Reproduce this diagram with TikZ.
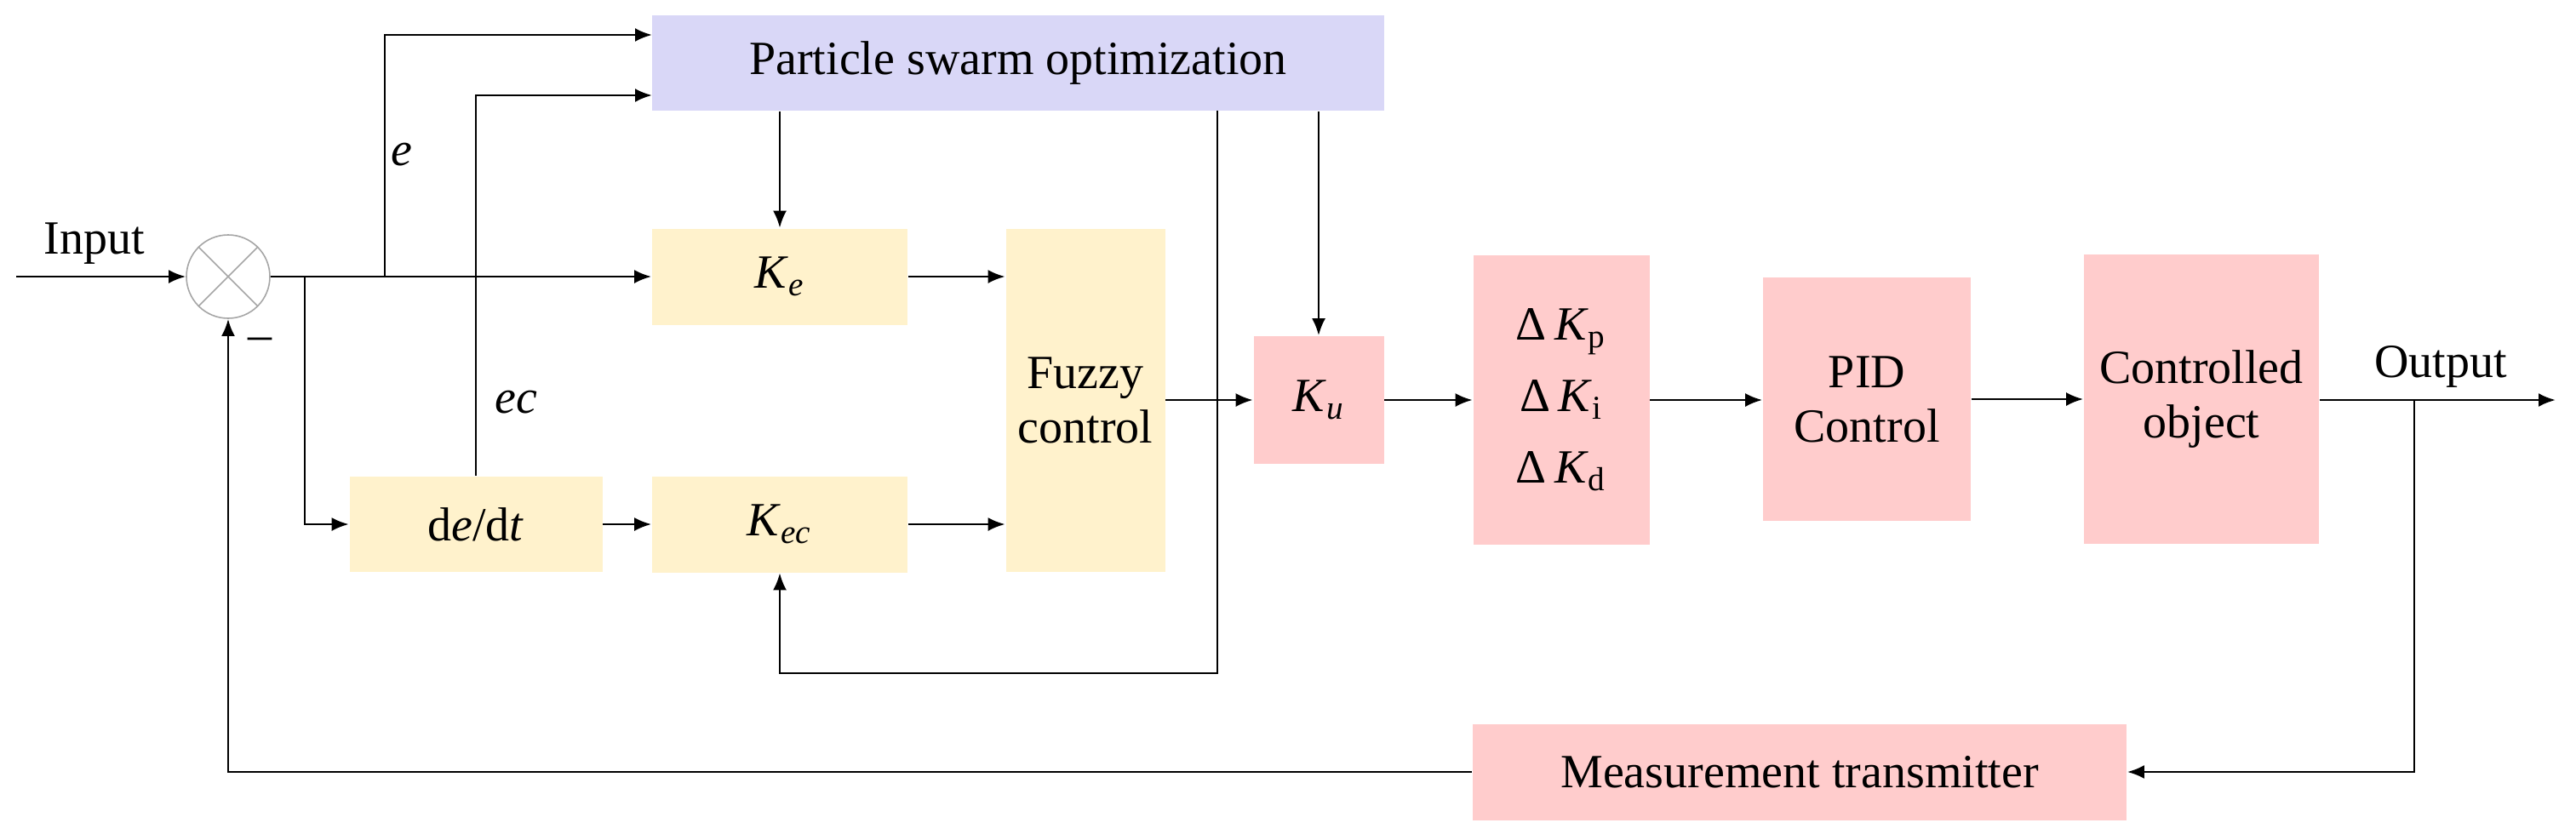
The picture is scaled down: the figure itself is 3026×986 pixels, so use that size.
\documentclass[tikz,border=0pt]{standalone}
\usepackage{fontspec}
\setmainfont{Liberation Serif}
\usetikzlibrary{arrows.meta}
\definecolor{yel}{HTML}{FFF2CC}
\definecolor{pnk}{HTML}{FFCCCC}
\definecolor{lav}{HTML}{D9D7F7}
\begin{document}
\begin{tikzpicture}[x=0.25pt,y=-0.25pt,font=\fontsize{14}{16}\selectfont,
  box/.style={draw=none,inner sep=0pt,align=center},
  yb/.style={box,fill=yel},
  pb/.style={box,fill=pnk},
  ar/.style={-{Latex[length=5pt,width=4pt]},line width=0.7pt},
  ln/.style={line width=0.7pt}]
\useasboundingbox (0,0) rectangle (3026,986);
\node[box,fill=lav,minimum width=215pt,minimum height=28pt] (PSO) at (1196,74) {Particle swarm optimization};
\node[yb,minimum width=75pt,minimum height=28.25pt] (Ke) at (916,325) {\textit{K}\textsubscript{\textit{e}}};
\node[yb,minimum width=75pt,minimum height=28.25pt] (Kec) at (916,616) {\textit{K}\textsubscript{\textit{ec}}};
\node[yb,minimum width=74.25pt,minimum height=28pt] (dedt) at (559,616) {d\textit{e}/d\textit{t}};
\node[yb,minimum width=46.75pt,minimum height=100.75pt] (Fz) at (1275,470) {Fuzzy\\control};
\node[pb,minimum width=38.25pt,minimum height=37.5pt] (Ku) at (1549,470) {\textit{K}\textsubscript{\textit{u}}};
\node[pb,minimum width=51.75pt,minimum height=85pt] (DK) at (1834,470) {Δ\,\textit{K}\textsubscript{p}\\[5pt]Δ\,\textit{K}\textsubscript{i}\\[5pt]Δ\,\textit{K}\textsubscript{d}};
\node[pb,minimum width=61pt,minimum height=71.5pt] (PID) at (2193,469) {PID\\Control};
\node[pb,minimum width=69pt,minimum height=85pt] (CO) at (2586,469) {Controlled\\object};
\node[pb,minimum width=192pt,minimum height=28.25pt] (Ms) at (2114,907) {Measurement transmitter};
\node[circle,draw=gray!70,line width=0.4pt,minimum size=24.5pt,inner sep=0pt] (S) at (268,325) {};
\draw[gray!70,line width=0.4pt] (S.45)--(S.225) (S.135)--(S.315);
\node (tin) at (111,286) {Input};
\node (tout) at (2867,431) {Output};
\node (te) at (472,182) {\textit{e}};
\node (tec) at (606,473) {\textit{ec}};
\node (tm) at (305,404) {–};
\coordinate (in) at (19,325);
\coordinate (out) at (3002,470);
\coordinate (be) at (452,325);
\coordinate (bd) at (358,325);
\coordinate (pe) at (766,41);
\coordinate (pc) at (766,112);
\coordinate (ps) at (1430,130);
\coordinate (pl) at (1430,791);
\coordinate (bo) at (2836,470);
\draw[ar] (in) -- (S);
\draw[ar] (S) -- (Ke);
\draw[ar] (be) |- (pe);
\draw[ar] (bd) |- (dedt);
\draw[ar] (dedt.north) |- (pc);
\draw[ar] (dedt) -- (Kec);
\draw[ar] (Ke.east) -- (Fz.west |- Ke.east);
\draw[ar] (Kec.east) -- (Fz.west |- Kec.east);
\draw[ar] (Ke.north |- PSO.south) -- (Ke.north);
\draw[ar] (Ku.north |- PSO.south) -- (Ku.north);
\draw[ar] (ps) -- (pl) -| (Kec.south);
\draw[ar] (Fz.east |- Ku.west) -- (Ku.west);
\draw[ar] (Ku) -- (DK);
\draw[ar] (DK) -- (PID.west |- DK.east);
\draw[ar] (PID) -- (CO.west |- PID.east);
\draw[ar] (CO.east |- out) -- (out);
\draw[ar] (bo) |- (Ms.east);
\draw[ar] (Ms.west) -| (S.south);
\end{tikzpicture}
\end{document}
